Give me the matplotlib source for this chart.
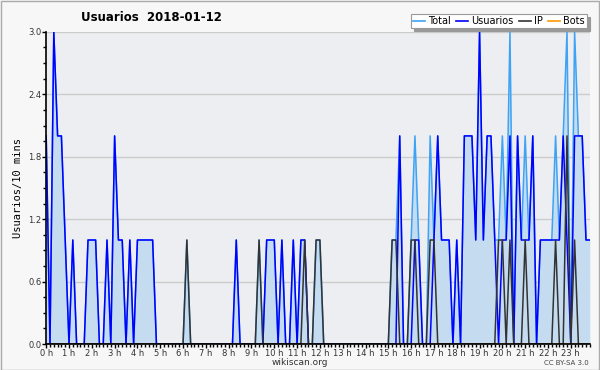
import numpy as np
import matplotlib
matplotlib.use("Agg")
import matplotlib.pyplot as plt
from matplotlib.lines import Line2D
from matplotlib.patches import Rectangle

# 10-minute buckets over the day (0..143)
usuarios = [2, 0, 3, 2, 2, 1, 0, 1, 0, 0,
            0, 1, 1, 1, 0, 0, 1, 0, 2, 1,
            1, 0, 1, 0, 1, 1, 1, 1, 1, 0,
            0, 0, 0, 0, 0, 0, 0, 0, 0, 0,
            0, 0, 0, 0, 0, 0, 0, 0, 0, 0,
            1, 0, 0, 0, 0, 0, 0, 0, 1, 1,
            1, 0, 1, 0, 0, 1, 0, 1, 1, 0,
            0, 0, 0, 0, 0, 0, 0, 0, 0, 0,
            0, 0, 0, 0, 0, 0, 0, 0, 0, 0,
            0, 0, 0, 2, 0, 0, 0, 1, 1, 0,
            0, 0, 1, 2, 1, 1, 1, 0, 1, 0,
            2, 2, 2, 1, 3, 1, 2, 2, 1, 0,
            1, 1, 2, 0, 2, 1, 1, 1, 2, 0,
            1, 1, 1, 1, 1, 1, 2, 1, 0, 2,
            2, 2, 1, 1]

ip = [0, 0, 0, 0, 0, 0, 0, 0, 0, 0,
      0, 0, 0, 0, 0, 0, 0, 0, 0, 0,
      0, 0, 0, 0, 0, 0, 0, 0, 0, 0,
      0, 0, 0, 0, 0, 0, 0, 1, 0, 0,
      0, 0, 0, 0, 0, 0, 0, 0, 0, 0,
      0, 0, 0, 0, 0, 0, 1, 0, 0, 0,
      0, 0, 0, 0, 0, 0, 0, 0, 1, 0,
      0, 1, 1, 0, 0, 0, 0, 0, 0, 0,
      0, 0, 0, 0, 0, 0, 0, 0, 0, 0,
      0, 1, 1, 0, 0, 0, 1, 1, 0, 0,
      0, 1, 1, 0, 0, 0, 0, 0, 0, 0,
      0, 0, 0, 0, 0, 0, 0, 0, 0, 1,
      1, 0, 1, 0, 0, 0, 1, 0, 0, 0,
      0, 0, 0, 0, 1, 0, 0, 2, 0, 1,
      0, 0, 0, 0]

total = [2, 0, 3, 2, 2, 1, 0, 1, 0, 0,
         0, 1, 1, 1, 0, 0, 1, 0, 2, 1,
         1, 0, 1, 0, 1, 1, 1, 1, 1, 0,
         0, 0, 0, 0, 0, 0, 0, 1, 0, 0,
         0, 0, 0, 0, 0, 0, 0, 0, 0, 0,
         1, 0, 0, 0, 0, 0, 1, 0, 1, 1,
         1, 0, 1, 0, 0, 1, 0, 1, 1, 0,
         0, 1, 1, 0, 0, 0, 0, 0, 0, 0,
         0, 0, 0, 0, 0, 0, 0, 0, 0, 0,
         0, 1, 1, 2, 0, 0, 1, 2, 1, 0,
         0, 2, 1, 2, 1, 1, 1, 0, 1, 0,
         2, 2, 2, 1, 3, 1, 2, 2, 1, 1,
         2, 1, 3, 0, 2, 1, 2, 1, 2, 0,
         1, 1, 1, 1, 2, 1, 2, 3, 0, 3,
         2, 2, 1, 1]

bots = [0] * 144

hour_labels = [f"{h} h" for h in range(24)]

x = np.arange(len(total))

fig = plt.figure(figsize=(6, 3.7), dpi=100, facecolor="#f7f7f7")
ax = fig.add_axes([0.077, 0.070, 0.906, 0.844])
ax.set_facecolor("#eceef1")

ax.fill_between(x, total, 0, color="#c5dcf0", lw=0, zorder=1)
ax.plot(x, bots, color="#ff9900", lw=1.1, zorder=2)
ax.plot(x, total, color="#3ea2f5", lw=1.1, zorder=3)
ax.plot(x, usuarios, color="#0000ff", lw=1.1, zorder=4)
ax.plot(x, ip, color="#333333", lw=1.1, zorder=5)

ax.set_xlim(0, 143)
ax.set_ylim(0, 3.0)
ax.set_yticks(np.arange(0, 3.01, 0.6))
ax.set_yticklabels([f"{v:.1f}" for v in np.arange(0, 3.01, 0.6)])
ax.set_yticks(np.arange(0, 3.01, 0.15), minor=True)
ax.set_xticks(np.arange(0, 144, 6))
ax.set_xticklabels(hour_labels)
ax.set_xticks(np.arange(0, 144, 1), minor=True)
ax.grid(axis="y", color="#cccccc", lw=1, zorder=0)
ax.set_axisbelow(True)

for s in ["top", "right"]:
    ax.spines[s].set_visible(False)
for s in ["left", "bottom"]:
    ax.spines[s].set_color("black")
    ax.spines[s].set_linewidth(1.2)
    ax.spines[s].set_zorder(6)

ax.tick_params(axis="both", which="major", direction="out", length=3,
               width=1, labelsize=6, labelcolor="#333333", pad=0.5)
ax.tick_params(axis="both", which="minor", direction="out", length=2, width=1)

ax.set_ylabel("Usuarios/10 mins", family="DejaVu Sans Mono", fontsize=7.5, labelpad=4)
fig.text(0.5, 0.02, "wikiscan.org", fontsize=6.5, color="#333333",
         ha="center", va="center")

fig.text(0.252, 0.953, "Usuarios  2018-01-12", fontsize=8.5, fontweight="bold",
         ha="center", va="center")
fig.text(0.982, 0.02, "CC BY-SA 3.0", fontsize=5, color="#444444",
         ha="right", va="center")

handles = [Line2D([], [], color="#3ea2f5", lw=1.2),
           Line2D([], [], color="#0000ff", lw=1.2),
           Line2D([], [], color="#333333", lw=1.2),
           Line2D([], [], color="#ff9900", lw=1.2)]
leg = fig.legend(handles, ["Total", "Usuarios", "IP", "Bots"], ncol=4,
                 loc="upper right", bbox_to_anchor=(0.978, 0.962),
                 fontsize=7, frameon=True, fancybox=False,
                 shadow={"color": "#999999", "alpha": 1},
                 handlelength=1.2, handletextpad=0.35, columnspacing=0.55,
                 borderpad=0.2, borderaxespad=0)
leg.get_frame().set_edgecolor("#999999")
leg.get_frame().set_facecolor("white")
leg.get_frame().set_linewidth(0.8)

fig.patches.append(Rectangle((0.001, 0.001), 0.997, 0.997, transform=fig.transFigure,
                             fill=False, edgecolor="#aaaaaa", lw=1))

fig.savefig("out.png", dpi=100, facecolor=fig.get_facecolor())
